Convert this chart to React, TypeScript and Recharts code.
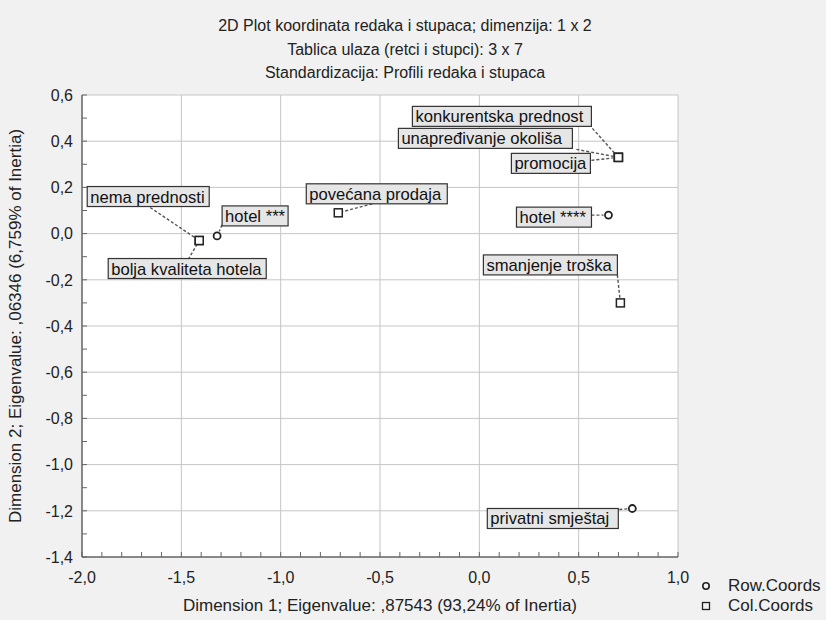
import React from "react";
import { CartesianGrid, Legend, Scatter, ScatterChart, XAxis, YAxis } from "recharts";

// row points (hotel types)
const ROW_NAMES = ["hotel ***", "hotel ****", "privatni smještaj"];
const ROW_X = [-1.32, 0.65, 0.77];
const ROW_Y = [-0.01, 0.08, -1.19];

// column points (reasons)
const COL_NAMES = [
  "nema prednosti",
  "bolja kvaliteta hotela",
  "povećana prodaja",
  "konkurentska prednost",
  "unapređivanje okoliša",
  "promocija",
  "smanjenje troška",
];
const COL_X = [-1.41, -1.41, -0.71, 0.7, 0.7, 0.7, 0.71];
const COL_Y = [-0.03, -0.03, 0.09, 0.33, 0.33, 0.33, -0.3];

const X_MAJOR = [-2.0, -1.5, -1.0, -0.5, 0.0, 0.5, 1.0];
const Y_MAJOR = [-1.4, -1.2, -1.0, -0.8, -0.6, -0.4, -0.2, 0.0, 0.2, 0.4, 0.6];
const X_MINOR = [
  -2.0, -1.9, -1.8, -1.7, -1.6, -1.5, -1.4, -1.3, -1.2, -1.1, -1.0, -0.9, -0.8, -0.7, -0.6, -0.5,
  -0.4, -0.3, -0.2, -0.1, 0.0, 0.1, 0.2, 0.3, 0.4, 0.5, 0.6, 0.7, 0.8, 0.9, 1.0,
];
const Y_MINOR = [
  -1.4, -1.3, -1.2, -1.1, -1.0, -0.9, -0.8, -0.7, -0.6, -0.5, -0.4, -0.3, -0.2, -0.1, 0.0, 0.1,
  0.2, 0.3, 0.4, 0.5, 0.6,
];

const TITLE = [
  "2D Plot koordinata redaka i stupaca; dimenzija: 1 x 2",
  "Tablica ulaza (retci i stupci): 3 x 7",
  "Standardizacija: Profili redaka i stupaca",
];
const LEGEND_ORDER = ["Row.Coords", "Col.Coords"];

const rowData = ROW_NAMES.map((name, i) => ({ name, x: ROW_X[i], y: ROW_Y[i] }));
const colData = COL_NAMES.map((name, i) => ({ name, x: COL_X[i], y: COL_Y[i] }));

// label box placement relative to its point: [dx, dy, width], leader start [lx, ly]
const LABEL_POS: Record<string, { box: [number, number, number]; lead: [number, number] }> = {
  "nema prednosti": { box: [-112, -54, 122], lead: [-49, -33] },
  "bolja kvaliteta hotela": { box: [-91, 18, 158], lead: [-11, 19] },
  "hotel ***": { box: [5, -30, 66], lead: [5, -11] },
  "povećana prodaja": { box: [-32, -29, 141], lead: [34, -9] },
  "konkurentska prednost": { box: [-206, -51, 179], lead: [-26, -29] },
  "unapređivanje okoliša": { box: [-220, -29, 174], lead: [-42, -8] },
  promocija: { box: [-107, -4, 79], lead: [-27, 3] },
  "hotel ****": { box: [-92, -8, 75], lead: [-17, 0] },
  "smanjenje troška": { box: [-137, -48, 134], lead: [-3, -28] },
  "privatni smještaj": { box: [-145, 0, 131], lead: [-13, 1] },
};

const FONT = "'Liberation Sans', Arial, sans-serif";
const INK = "#222";
const FRAME = "#333";
const MINOR_TICK = "#666";

const isMajor = (majors: number[], v: number) => majors.some((m) => Math.abs(m - v) < 1e-9);
const fmtNum = (v: number) => (Math.abs(v) < 1e-9 ? "0,0" : v.toFixed(1).replace(".", ","));

// bottom axis: tickMargin 14, tick mark drawn inward from the axis line
const BottomTick = (props: any) => {
  const { x, y, payload } = props;
  const axisY = y - 14;
  return (
    <g>
      <line x1={x} y1={axisY} x2={x} y2={axisY - 5} stroke={MINOR_TICK} />
      {isMajor(X_MAJOR, payload.value) && (
        <text x={x} y={y + 11.5} textAnchor="middle" fontSize={16} fontFamily={FONT} fill={INK}>
          {fmtNum(payload.value)}
        </text>
      )}
    </g>
  );
};

// left axis: tickMargin 9
const LeftTick = (props: any) => {
  const { x, y, payload } = props;
  const axisX = x + 9;
  return (
    <g>
      <line x1={axisX} y1={y} x2={axisX + 5} y2={y} stroke={MINOR_TICK} />
      {isMajor(Y_MAJOR, payload.value) && (
        <text x={x} y={y + 5.8} textAnchor="end" fontSize={16} fontFamily={FONT} fill={INK}>
          {fmtNum(payload.value)}
        </text>
      )}
    </g>
  );
};

const TopTick = (props: any) => <line x1={props.x} y1={props.y} x2={props.x} y2={props.y + 5} stroke={MINOR_TICK} />;
const RightTick = (props: any) => <line x1={props.x} y1={props.y} x2={props.x - 5} y2={props.y} stroke={MINOR_TICK} />;

function PointLabel({ cx, cy, name }: { cx: number; cy: number; name: string }) {
  const pos = LABEL_POS[name];
  if (!pos) return null;
  const [bx, by, bw] = pos.box;
  const [lx, ly] = pos.lead;
  const sx = cx + lx;
  const sy = cy + ly;
  const dist = Math.hypot(cx - sx, cy - sy) || 1;
  const ex = cx - ((cx - sx) / dist) * 5;
  const ey = cy - ((cy - sy) / dist) * 5;
  return (
    <g>
      <line x1={sx} y1={sy} x2={ex} y2={ey} stroke="#555" strokeWidth={1.4} strokeDasharray="3 2" />
      <rect x={cx + bx} y={cy + by} width={bw} height={20} fill="#e6e6e6" stroke={FRAME} strokeWidth={1.2} />
      <text x={cx + bx + 3} y={cy + by + 16} fontSize={16.6} fontFamily={FONT} fill="#111">
        {name}
      </text>
    </g>
  );
}

const rowShape = (props: any) => {
  const { cx, cy, payload } = props;
  return (
    <g>
      <PointLabel cx={cx} cy={cy} name={payload.name} />
      <circle cx={cx} cy={cy} r={3.5} fill="#fff" stroke={INK} strokeWidth={1.8} />
    </g>
  );
};

const colShape = (props: any) => {
  const { cx, cy, payload } = props;
  return (
    <g>
      <PointLabel cx={cx} cy={cy} name={payload.name} />
      <rect x={cx - 4} y={cy - 4} width={8} height={8} fill="#fff" stroke={INK} strokeWidth={1.5} />
    </g>
  );
};

const renderLegend = (props: any) => {
  const items = [...(props.payload || [])].sort(
    (a: any, b: any) => LEGEND_ORDER.indexOf(a.value) - LEGEND_ORDER.indexOf(b.value)
  );
  return (
    <div style={{ fontFamily: FONT, fontSize: 17, color: INK, lineHeight: "20px" }}>
      {items.map((it: any) => (
        <div key={it.value} style={{ display: "flex", alignItems: "center", height: 20 }}>
          <svg width={12} height={12}>
            {it.value === "Row.Coords" ? (
              <circle cx={6} cy={6} r={3.2} fill="none" stroke={INK} strokeWidth={1.6} />
            ) : (
              <rect x={2.5} y={2.5} width={7} height={7} fill="none" stroke={INK} strokeWidth={1.3} />
            )}
          </svg>
          <span style={{ marginLeft: 16 }}>{it.value}</span>
        </div>
      ))}
    </div>
  );
};

export default function App() {
  return (
    <div style={{ position: "absolute", left: 0, top: 0, width: 826, height: 620, background: "#f1f1f1" }}>
      {TITLE.map((t, i) => (
        <div
          key={t}
          style={{
            position: "absolute",
            left: 0,
            width: 810,
            top: 16 + i * 23.5,
            textAlign: "center",
            fontFamily: FONT,
            fontSize: 16,
            lineHeight: "20px",
            color: INK,
          }}
        >
          {t}
        </div>
      ))}
      <ScatterChart width={826} height={620} margin={{ top: 95, right: 148, bottom: 0, left: 12 }}>
        <CartesianGrid
          xAxisId="main"
          yAxisId="main"
          stroke="#c6c6c6"
          fill="#fff"
          verticalValues={X_MAJOR}
          horizontalValues={Y_MAJOR}
        />
        <XAxis
          xAxisId="main"
          type="number"
          dataKey="x"
          domain={[-2, 1]}
          ticks={X_MINOR}
          interval={0}
          height={63}
          tickSize={0}
          tickMargin={14}
          tickLine={false}
          axisLine={{ stroke: FRAME }}
          tick={BottomTick}
          label={{
            value: "Dimension 1; Eigenvalue: ,87543 (93,24% of Inertia)",
            position: "insideBottom",
            offset: 9,
            style: { fontSize: 17, fontFamily: FONT, fill: INK },
          }}
        />
        <XAxis
          xAxisId="top"
          orientation="top"
          type="number"
          domain={[-2, 1]}
          allowDataOverflow
          ticks={X_MINOR}
          interval={0}
          height={0}
          tickSize={0}
          tickMargin={0}
          tickLine={false}
          tick={TopTick}
          axisLine={{ stroke: FRAME }}
        />
        <YAxis
          yAxisId="main"
          type="number"
          dataKey="y"
          domain={[-1.4, 0.6]}
          ticks={Y_MINOR}
          interval={0}
          width={70}
          tickSize={0}
          tickMargin={9}
          tickLine={false}
          axisLine={{ stroke: FRAME }}
          tick={LeftTick}
          label={{
            value: "Dimension 2; Eigenvalue: ,06346 (6,759% of Inertia)",
            angle: -90,
            position: "insideLeft",
            offset: 3,
            style: { fontSize: 17, fontFamily: FONT, fill: INK, textAnchor: "middle" },
          }}
        />
        <YAxis
          yAxisId="right"
          orientation="right"
          type="number"
          domain={[-1.4, 0.6]}
          allowDataOverflow
          ticks={Y_MINOR}
          interval={0}
          width={0}
          tickSize={0}
          tickMargin={0}
          tickLine={false}
          tick={RightTick}
          axisLine={{ stroke: FRAME }}
        />
        <Legend
          layout="vertical"
          align="center"
          verticalAlign="middle"
          content={renderLegend}
          wrapperStyle={{ left: 700, top: 576, width: 126, height: 40 }}
        />
        <Scatter
          name="Row.Coords"
          data={rowData}
          xAxisId="main"
          yAxisId="main"
          shape={rowShape}
          legendType="circle"
          isAnimationActive={false}
        />
        <Scatter
          name="Col.Coords"
          data={colData}
          xAxisId="main"
          yAxisId="main"
          shape={colShape}
          legendType="square"
          isAnimationActive={false}
        />
      </ScatterChart>
    </div>
  );
}
